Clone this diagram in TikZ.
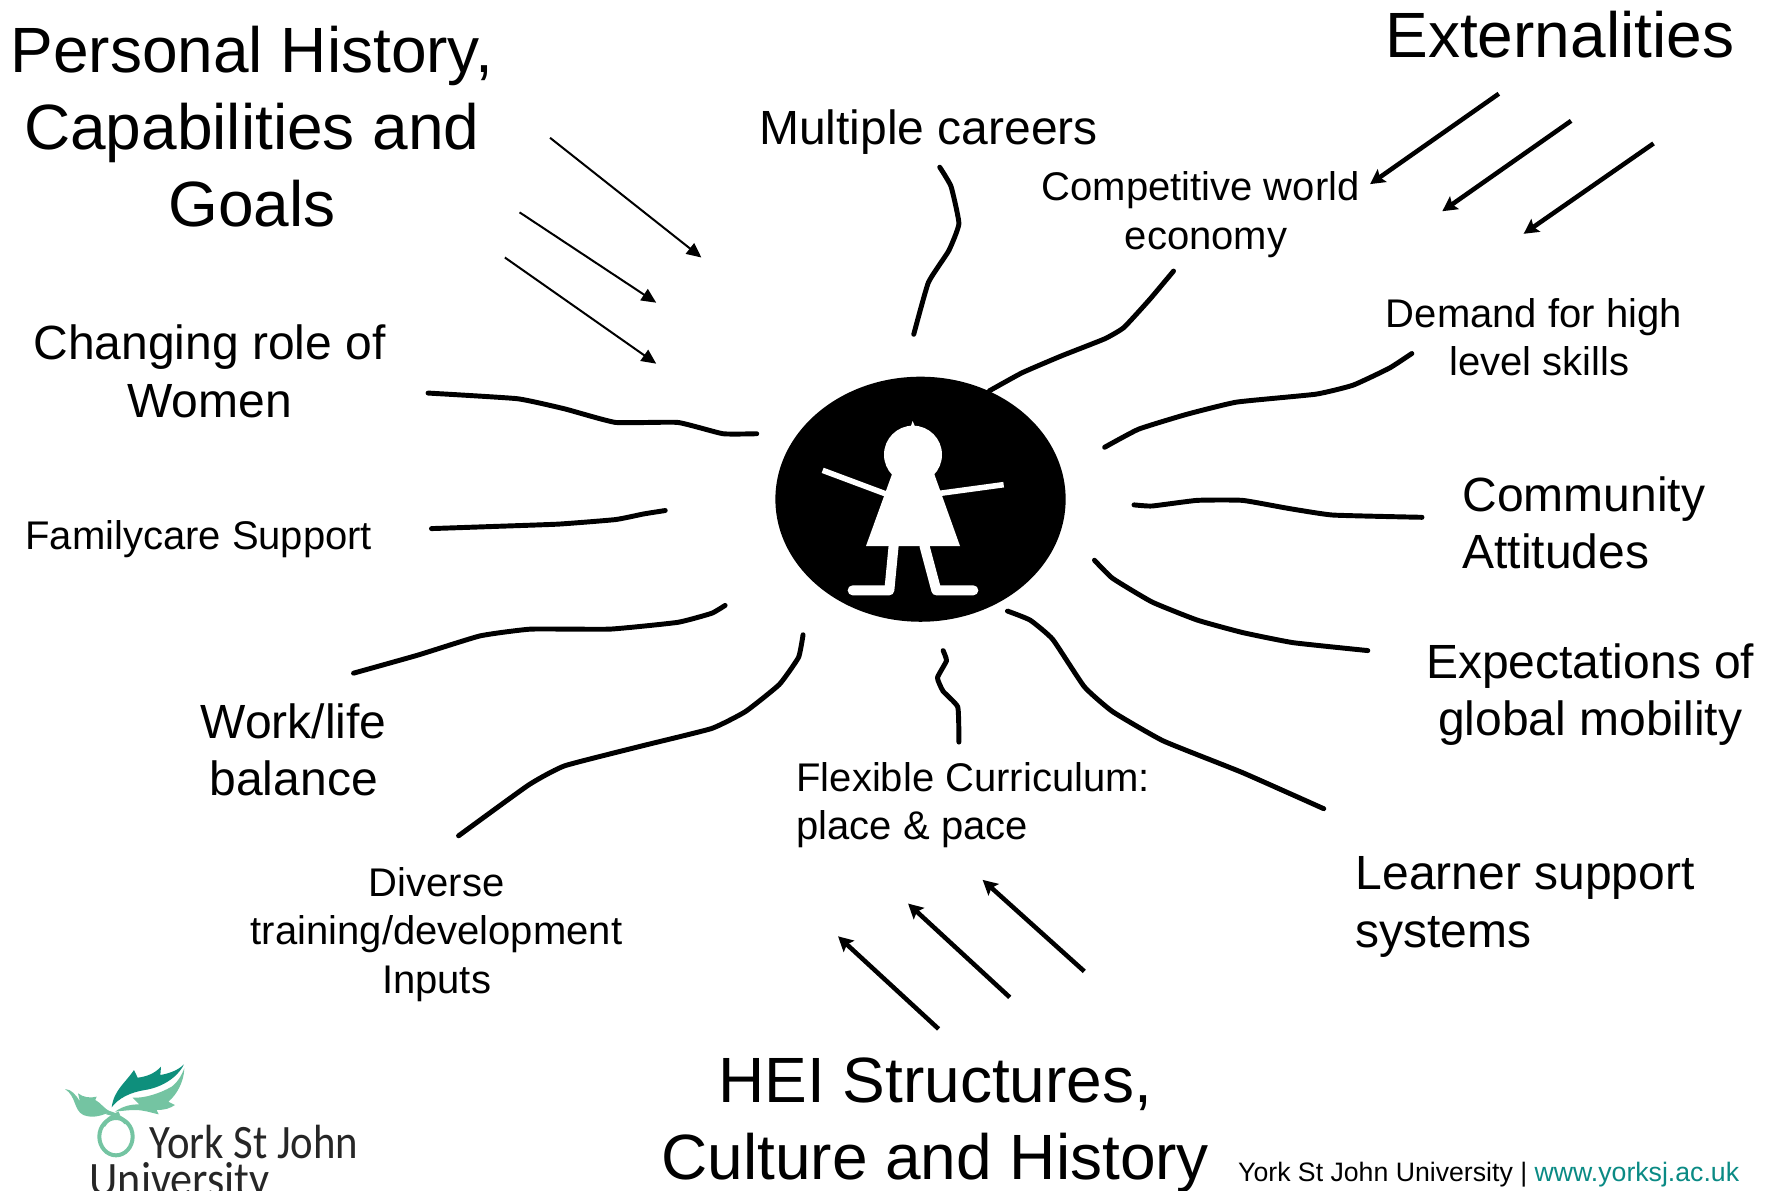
\documentclass[tikz,border=0pt]{standalone}
\usepackage{fontspec}
\setmainfont{Liberation Sans}
\newfontfamily\logofont{Carlito}
\usetikzlibrary{arrows.meta,shapes.geometric}
\definecolor{logoDark}{HTML}{0E8F7C}
\definecolor{logoLight}{HTML}{74C4A2}
\definecolor{linkTeal}{HTML}{0A8A84}
\tikzset{
 big/.style={align=center,font=\fontsize{48}{57.6}\selectfont,inner sep=0pt},
 mid/.style={align=center,font=\fontsize{36}{43.2}\selectfont,inner sep=0pt},
 small/.style={align=center,font=\fontsize{30}{36.4}\selectfont,inner sep=0pt},
 midl/.style={mid,align=left,anchor=west},
 smalll/.style={small,align=left,anchor=west},
 spoke/.style={line width=3.7pt,line cap=round,line join=round},
 thinarrow/.style={line width=1.5pt,-{Triangle[length=11pt,width=10pt]}},
 thickarrow/.style={line width=3.4pt,-{Stealth[length=11pt,width=11.5pt,inset=2pt]}},
 limb/.style={white,line width=4.2pt},
 leg/.style={white,line width=7.5pt,line cap=round,line join=round}
}
\begin{document}
\begin{tikzpicture}[x=.8471pt,y=-.8471pt]
\useasboundingbox (0,0) rectangle (1568,1053.6);
% labels
\node[big] (personal) at (223,112) {Personal History,\\Capabilities and\\Goals};
\node[big] (external) at (1381,31) {Externalities};
\node[big] (hei) at (828,996.5) {HEI Structures,\\Culture and History};
\node[mid] (careers) at (822,117) {Multiple careers};
\node[small] (competitive) at (1063,190) {Competitive world\\\hspace*{8pt}economy};
\node[small] (demand) at (1358,298.5) {Demand for high\\\hspace*{8pt}level skills};
\node[midl] (community) at (1294.5,463) {Community\\Attitudes};
\node[mid] (expect) at (1408,615) {Expectations of\\global mobility};
\node[midl] (learner) at (1200,803) {Learner support\\systems};
\node[smalll] (flexible) at (705,713) {Flexible Curriculum:\\place \& pace};
\node[small] (diverse) at (386.5,827.5) {Diverse\\training/development\\Inputs};
\node[mid] (worklife) at (260,664) {Work/life\\balance};
\node[small] (family) at (176,477) {Familycare Support};
\node[mid] (women) at (185.5,329) {Changing role of\\Women};
\node[inner sep=0pt,anchor=east,font=\fontsize{20}{24}\selectfont] (footer) at (1540,1040) {York St John University | \textcolor{linkTeal}{www.yorksj.ac.uk}};
% centre disc
\node[fill=black,ellipse,minimum width=217.7pt,minimum height=183.8pt,inner sep=0pt] (hub) at (815,442) {};
% figure
\begin{scope}[xshift=555pt,yshift=-270pt,x=.25pt,y=-.25pt]
 \fill[white] (519,284) circle [radius=87];
 \fill[white] (512,200) -- (518,183) -- (525,200) -- cycle;
 \fill[white] (457,340) -- (582,340) -- (660,558) -- (378,558) -- cycle;
 \draw[limb] (248,331) -- (438,402);
 \draw[limb] (600,400) -- (791,374);
 \draw[leg] (461,556) -- (448,691) -- (338,691);
 \draw[leg] (553,556) -- (589,691) -- (700,691);
\end{scope}
% spokes
\coordinate (s1a) at (832,148); \coordinate (s1b) at (809,296);
\draw[spoke] plot[smooth,tension=.25] coordinates {(s1a) (842,165) (849,198) (840,222) (822,250) (s1b)};
\coordinate (s2a) at (876,346); \coordinate (s2b) at (1039,240);
\draw[spoke] plot[smooth,tension=.25] coordinates {(s2a) (905,330) (940,315) (978,300) (995,290) (1018,265) (s2b)};
\coordinate (s3a) at (978,396); \coordinate (s3b) at (1250,313);
\draw[spoke] plot[smooth,tension=.25] coordinates {(s3a) (1008,380) (1050,367) (1095,356) (1165,349) (1198,341) (1230,326) (s3b)};
\coordinate (s4a) at (1004,447); \coordinate (s4b) at (1259,458);
\draw[spoke] plot[smooth,tension=.25] coordinates {(s4a) (1020,448) (1060,443) (1100,443) (1140,450) (1180,456) (s4b)};
\coordinate (s5a) at (969,496); \coordinate (s5b) at (1211,576);
\draw[spoke] plot[smooth,tension=.25] coordinates {(s5a) (985,512) (1020,533) (1060,549) (1100,560) (1145,569) (s5b)};
\coordinate (s6a) at (892,541); \coordinate (s6b) at (1172,716);
\draw[spoke] plot[smooth,tension=.25] coordinates {(s6a) (912,549) (932,566) (960,608) (985,630) (1030,656) (1100,684) (s6b)};
\coordinate (s7a) at (835,576); \coordinate (s7b) at (849,657);
\draw[spoke] plot[smooth,tension=.25] coordinates {(s7a) (838,585) (830,600) (835,612) (848,626) (s7b)};
\coordinate (s8a) at (711,562); \coordinate (s8b) at (406,740);
\draw[spoke] plot[smooth,tension=.25] coordinates {(s8a) (707,582) (690,606) (660,630) (630,645) (570,660) (500,678) (468,695) (s8b)};
\coordinate (s9a) at (642,536); \coordinate (s9b) at (313,596);
\draw[spoke] plot[smooth,tension=.25] coordinates {(s9b) (370,580) (425,563) (470,557) (540,557) (600,551) (630,543) (s9a)};
\coordinate (s10a) at (589,452); \coordinate (s10b) at (382,468);
\draw[spoke] plot[smooth,tension=.25] coordinates {(s10b) (440,466) (495,464) (545,460) (570,455) (s10a)};
\coordinate (s11a) at (670,384); \coordinate (s11b) at (379,348);
\draw[spoke] plot[smooth,tension=.25] coordinates {(s11b) (458,353) (500,362) (545,374) (600,374) (640,384) (s11a)};
% arrows
\coordinate (a1) at (487,122); \coordinate (b1) at (621,228);
\coordinate (a2) at (460,188); \coordinate (b2) at (581,268);
\coordinate (a3) at (447,228); \coordinate (b3) at (581,322);
\draw[thinarrow] (a1) -- (b1);
\draw[thinarrow] (a2) -- (b2);
\draw[thinarrow] (a3) -- (b3);
\coordinate (a4) at (1327,83); \coordinate (b4) at (1213,163);
\coordinate (a5) at (1391,107); \coordinate (b5) at (1277,187);
\coordinate (a6) at (1464,127); \coordinate (b6) at (1349,207);
\draw[thickarrow] (a4) -- (b4);
\draw[thickarrow] (a5) -- (b5);
\draw[thickarrow] (a6) -- (b6);
\coordinate (a7) at (831,911); \coordinate (b7) at (742,829);
\coordinate (a8) at (894,883); \coordinate (b8) at (804,800);
\coordinate (a9) at (960,860); \coordinate (b9) at (870,779);
\draw[thickarrow] (a7) -- (b7);
\draw[thickarrow] (a8) -- (b8);
\draw[thickarrow] (a9) -- (b9);
% logo emblem
\begin{scope}[xshift=45pt,yshift=-791.25pt,x=.25pt,y=-.25pt]
 \draw[logoLight,line width=3pt] (168,245) ellipse [x radius=50,y radius=56];
 \draw[logoLight,line width=3pt] (140,172) .. controls (165,178) and (180,185) .. (198,203);
 \draw[logoLight,line width=3pt] (178,175) .. controls (155,185) and (140,195) .. (130,212);
 \fill[logoLight] (165,170) .. controls (190,152) and (215,148) .. (238,148) -- (218,128) .. controls (255,130) and (300,115) .. (335,95) .. controls (355,80) and (365,60) .. (373,40) .. controls (372,80) and (350,120) .. (325,140) -- (345,150) .. controls (330,160) and (315,165) .. (290,165) -- (296,178) .. controls (270,172) and (250,165) .. (225,165) .. controls (205,165) and (185,168) .. (165,170) -- cycle;
 \fill[logoLight] (15,102) .. controls (35,103) and (48,120) .. (60,140) -- (54,115) .. controls (70,127) and (90,130) .. (110,125) -- (106,135) .. controls (125,145) and (130,160) .. (152,170) .. controls (130,180) and (100,192) .. (70,180) .. controls (40,165) and (50,125) .. (15,102) -- cycle;
 \fill[logoDark] (155,157) .. controls (162,105) and (195,85) .. (222,45) -- (233,68) .. controls (260,65) and (285,55) .. (303,35) -- (301,60) .. controls (330,55) and (355,45) .. (372,28) .. controls (350,72) and (300,98) .. (255,105) .. controls (210,112) and (175,130) .. (155,157) -- cycle;
\end{scope}
% logo text
\begin{scope}[xshift=30pt,yshift=-780pt,x=.25pt,y=-.25pt]
 \node[inner sep=0pt,anchor=base west,font=\logofont\fontsize{36}{36}\selectfont,text=black!85,xscale=.89] (logoA) at (328,356) {York St John};
 \node[inner sep=0pt,anchor=base west,font=\logofont\fontsize{36}{36}\selectfont,text=black!85,xscale=.92] (logoB) at (148,466) {University};
\end{scope}
\end{tikzpicture}
\end{document}
